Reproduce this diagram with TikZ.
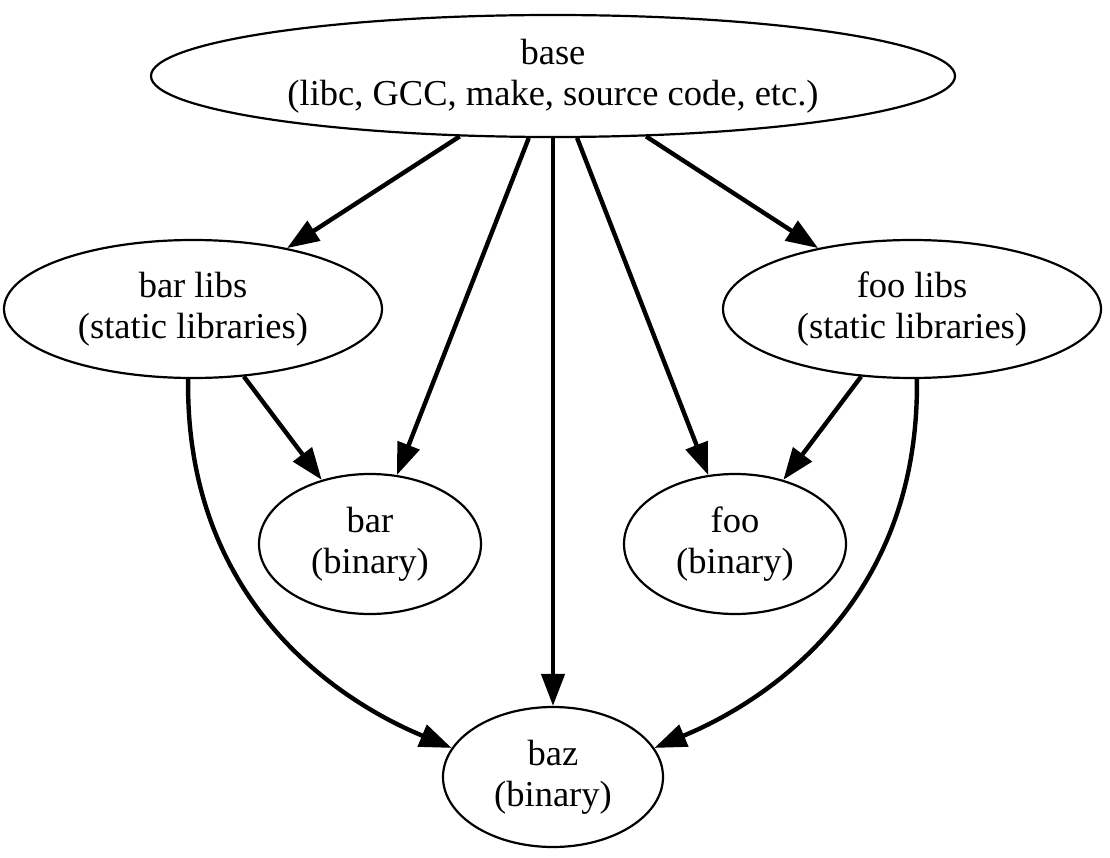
\documentclass[tikz,border=0pt]{standalone}
\usepackage{fontspec}
\setmainfont{Liberation Serif}
\usetikzlibrary{shapes.geometric,arrows.meta}
\begin{document}
\begin{tikzpicture}[x=1pt,y=-1pt,
  nd/.style={ellipse,draw,line width=2.2pt,inner sep=0pt,align=center,
    font=\fontsize{36.5}{41}\selectfont},
  edge/.style={line width=4.4pt,-{Triangle[length=32pt,width=23pt]}}]
\useasboundingbox (0,0) rectangle (1110,858);
\node[nd,minimum width=804pt,minimum height=122pt] (base) at (553,76) {base\\(libc, GCC, make, source code, etc.)};
\node[nd,minimum width=378pt,minimum height=138pt] (barlibs) at (193,309) {bar libs\\(static libraries)};
\node[nd,minimum width=378pt,minimum height=138pt] (foolibs) at (912,309) {foo libs\\(static libraries)};
\node[nd,minimum width=222pt,minimum height=140pt] (bar) at (370,544) {bar\\(binary)};
\node[nd,minimum width=222pt,minimum height=140pt] (foo) at (735,544) {foo\\(binary)};
\node[nd,minimum width=220pt,minimum height=140pt] (baz) at (553,777) {baz\\(binary)};
\draw[edge] (base) -- (barlibs);
\draw[edge] (base) -- (foolibs);
\draw[edge] (base) -- (bar);
\draw[edge] (base) -- (foo);
\draw[edge] (base) -- (baz);
\draw[edge] (barlibs) -- (bar);
\draw[edge] (foolibs) -- (foo);
\draw[edge] (barlibs.266) .. controls (185,630) and (380,718) .. (baz.164);
\draw[edge] (foolibs.274) .. controls (920,630) and (726,718) .. (baz.16);
\end{tikzpicture}
\end{document}
